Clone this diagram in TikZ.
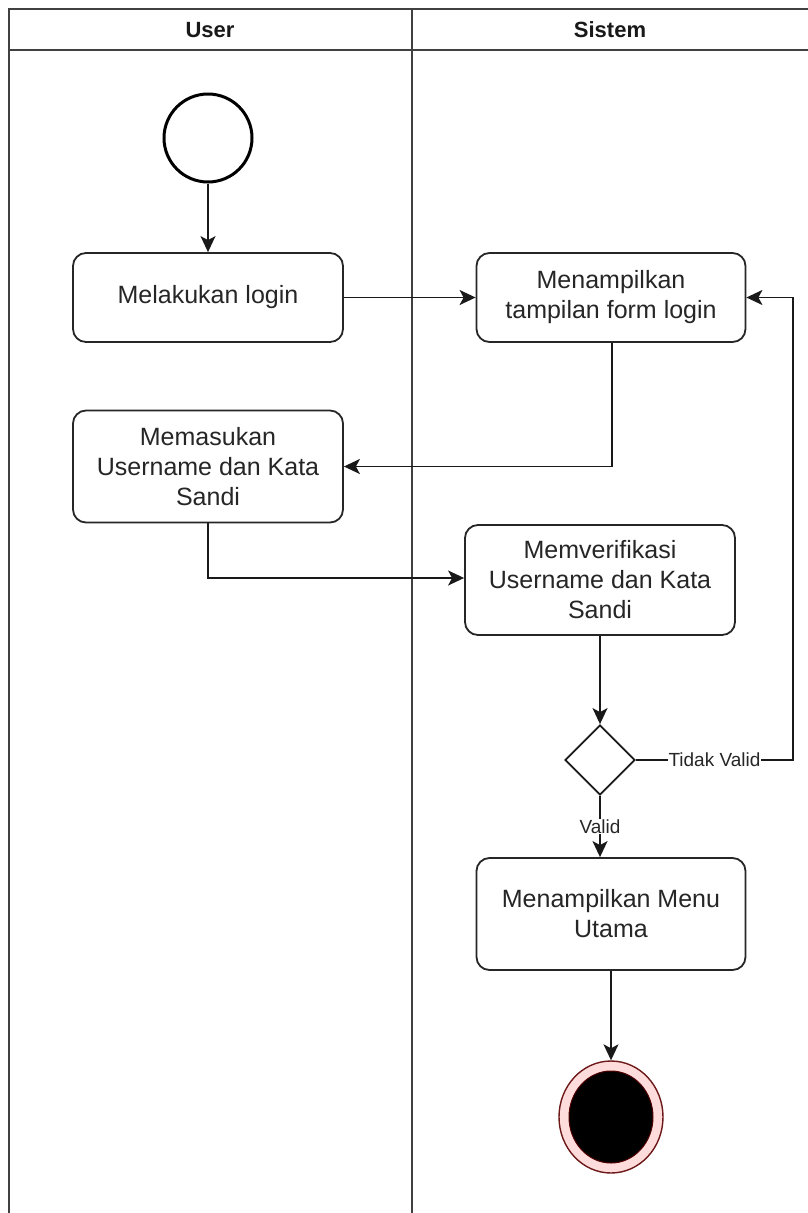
\documentclass[tikz,border=0pt]{standalone}
\usepackage{fontspec}
\setmainfont{Liberation Sans}
\usetikzlibrary{arrows.meta,shapes.geometric}
\begin{document}
\begin{tikzpicture}[x=1pt,y=-1pt,
  box/.style={draw=black!85, line width=1.8pt, rounded corners=13pt, fill=white,
    align=center, inner sep=0pt, font=\fontsize{25}{30}\selectfont, text=black!85},
  conn/.style={line width=1.6pt, draw=black!90},
  arr/.style={conn, -{Stealth[length=16pt,width=15pt,inset=4pt]}},
  lbl/.style={fill=white, inner sep=1pt, font=\fontsize{19}{22}\selectfont, text=black!85},
  hdr/.style={font=\bfseries\fontsize{22}{26}\selectfont, text=black!90}]
\useasboundingbox (0,0) rectangle (807,1213);
\fill[white] (0,0) rectangle (807,1213);
% swimlane frame
\draw[line width=1.6pt, black!75] (9,1230) -- (9,9) -- (830,9);
\draw[line width=1.6pt, black!75] (9,50) -- (830,50);
\draw[line width=1.6pt, black!75] (412,9) -- (412,1230);
\node[hdr] (huser) at (210,30) {User};
\node[hdr] (hsys) at (610,30) {Sistem};
% nodes
\node[circle, draw=black, line width=3pt, minimum size=88pt, inner sep=0pt] (start) at (208,138) {};
\node[box, minimum width=270pt, minimum height=89pt] (login) at (208,297.5) {Melakukan login};
\node[box, minimum width=269pt, minimum height=89pt] (form) at (611,297.5) {Menampilkan\\tampilan form login};
\node[box, minimum width=270pt, minimum height=112pt] (input) at (208,466.5) {Memasukan\\Username dan Kata\\Sandi};
\node[box, minimum width=270pt, minimum height=110pt] (verif) at (600,580) {Memverifikasi\\Username dan Kata\\Sandi};
\node[diamond, draw=black!90, line width=1.8pt, fill=white, minimum width=70pt, minimum height=70pt, inner sep=0pt, aspect=1] (dec) at (600,760) {};
\node[box, minimum width=269pt, minimum height=112pt] (menu) at (611,914) {Menampilkan Menu\\Utama};
\node[ellipse, draw={rgb,255:red,110;green,25;blue,25}, line width=1.4pt, fill={rgb,255:red,255;green,220;blue,220}, minimum width=104pt, minimum height=112pt, inner sep=0pt] (endo) at (611,1117) {};
\node[ellipse, draw={rgb,255:red,80;green,0;blue,0}, line width=1pt, fill=black, minimum width=84pt, minimum height=92pt, inner sep=0pt] (endi) at (611,1117) {};
% coordinates
\coordinate (c1) at (612,466.5);
\coordinate (c2) at (208,578);
\coordinate (r1) at (793,760);
\coordinate (r2) at (793,297.5);
% connectors
\draw[arr] (start) -- (login);
\draw[arr] (login) -- (form);
\draw[arr] (form.south -| c1) -- (c1) -- (input.east |- c1);
\draw[arr] (input.south -| c2) -- (c2) -- (verif.west |- c2);
\draw[arr] (verif.south -| dec) -- (dec.north);
\draw[arr] (dec.east) -- node[lbl] {Tidak Valid} (r1) -- (r2) -- (form.east);
\draw[arr] (dec.south) -- node[lbl] {Valid} (dec.south |- menu.north);
\draw[arr] (menu.south) -- (endo.north);
\end{tikzpicture}
\end{document}
